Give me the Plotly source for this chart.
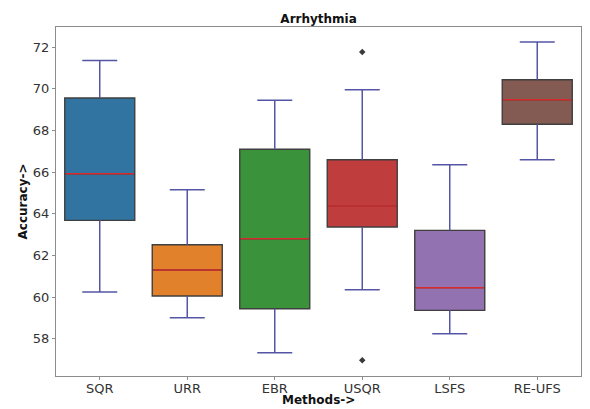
import plotly.graph_objects as go

# Accuracy statistics per feature-selection method (Arrhythmia dataset)
methods = ["SQR", "URR", "EBR", "USQR", "LSFS", "RE-UFS"]
lower_whisker = [60.24, 59.01, 57.33, 60.35, 58.24, 66.59]
q1 = [63.68, 60.05, 59.44, 63.36, 59.36, 68.29]
median = [65.92, 61.30, 62.80, 64.37, 60.45, 69.47]
q3 = [69.55, 62.51, 67.09, 66.59, 63.20, 70.43]
upper_whisker = [71.35, 65.15, 69.44, 69.95, 66.35, 72.24]
outlier_method = ["USQR", "USQR"]
outlier_value = [71.76, 56.96]

box_colors = ["#3274a1", "#e1812c", "#3a923a", "#c03d3e", "#9372b2", "#845b53"]
edge_color = "#3f3f3f"
whisker_color = "#5555a5"
median_color = "#d92b2b"
box_width = 0.8
cap_width = 0.4

pos = list(range(len(methods)))

fig = go.Figure()

# whiskers + caps drawn first so boxes sit on top of their ends
wx, wy = [], []
for i, lo, a, b, hi in zip(pos, lower_whisker, q1, q3, upper_whisker):
    wx += [i, i, None, i, i, None,
           i - cap_width / 2, i + cap_width / 2, None,
           i - cap_width / 2, i + cap_width / 2, None]
    wy += [lo, a, None, b, hi, None, lo, lo, None, hi, hi, None]
fig.add_trace(go.Scatter(x=wx, y=wy, mode="lines",
                         line=dict(color=whisker_color, width=1.5),
                         hoverinfo="skip", showlegend=False))

for i, m in enumerate(methods):
    fig.add_trace(go.Box(
        x=[i], q1=[q1[i]], median=[median[i]], q3=[q3[i]],
        lowerfence=[q1[i]], upperfence=[q3[i]],
        width=box_width, whiskerwidth=0,
        fillcolor=box_colors[i],
        line=dict(color=edge_color, width=1.4),
        name=m, showlegend=False, boxpoints=False,
    ))

# red median lines
mx, my = [], []
for i, md in zip(pos, median):
    mx += [i - box_width / 2 + 0.01, i + box_width / 2 - 0.01, None]
    my += [md, md, None]
fig.add_trace(go.Scatter(x=mx, y=my, mode="lines",
                         line=dict(color=median_color, width=1.5),
                         hoverinfo="skip", showlegend=False))

# outliers
fig.add_trace(go.Scatter(
    x=[methods.index(m) for m in outlier_method], y=outlier_value,
    mode="markers",
    marker=dict(symbol="diamond", size=5, color="#3a3a3a"),
    hoverinfo="skip", showlegend=False))

axis_common = dict(
    showgrid=False, zeroline=False, showline=True, mirror=True,
    linecolor="#8c8c8c", linewidth=1.2, automargin=False,
    ticks="outside", ticklen=3, tickcolor="#8c8c8c",
    tickfont=dict(family="DejaVu Sans", size=13, color="#333333"),
)

label_font = dict(family="DejaVu Sans", size=12, color="#111111")

fig.update_layout(
    width=590, height=409,
    margin=dict(l=56, r=9, t=27, b=33),
    plot_bgcolor="white", paper_bgcolor="white",
    title=dict(text="<b>Arrhythmia</b>", x=0.54, xanchor="center",
               y=0.955, yanchor="middle",
               font=label_font),
    xaxis=dict(axis_common, range=[-0.5, 5.5], tickvals=pos, ticktext=methods,
               ticklabelstandoff=-3),
    yaxis=dict(axis_common, range=[56.21, 72.96], tickvals=[58, 60, 62, 64, 66, 68, 70, 72]),
    annotations=[
        dict(text="<b>Methods-></b>", xref="paper", yref="paper", x=0.5, y=0,
             xanchor="center", yanchor="middle", yshift=-24, showarrow=False,
             font=label_font),
        dict(text="<b>Accuracy-></b>", xref="paper", yref="paper", x=0, y=0.5,
             xanchor="center", yanchor="middle", xshift=-34, textangle=-90,
             showarrow=False, font=label_font),
    ],
)

fig.write_html("out.html")
